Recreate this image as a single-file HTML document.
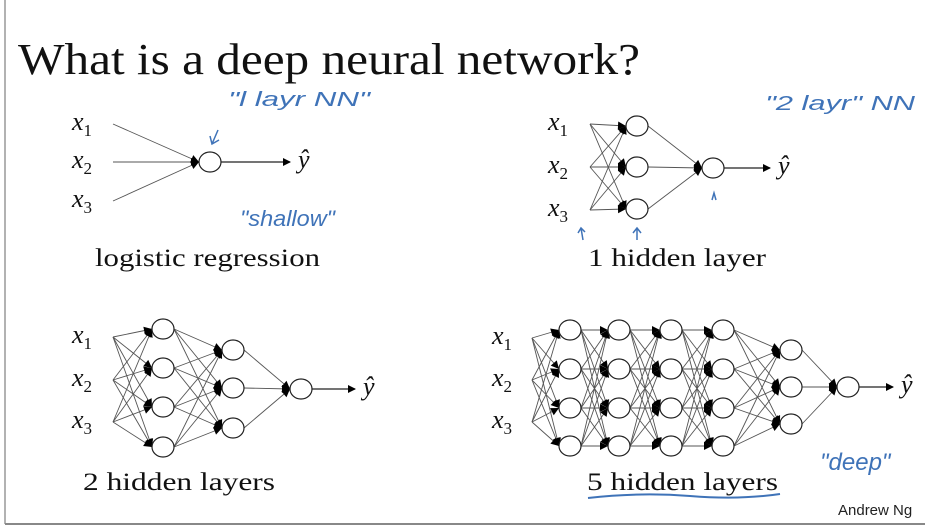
<!DOCTYPE html>
<html><head><meta charset="utf-8"><style>
body{margin:0;background:#fff;}
svg{display:block}
.s{font-family:"Liberation Serif",serif;fill:#111}
.m{font-family:"Liberation Serif",serif;font-style:italic;fill:#111}
.h{font-family:"Liberation Sans",sans-serif;fill:#3f73b8;font-style:italic}
</style></head><body>
<svg id="g" width="925" height="528" xmlns="http://www.w3.org/2000/svg">
<defs><marker id="a" markerWidth="8" markerHeight="8" refX="7" refY="4" orient="auto" markerUnits="userSpaceOnUse"><path d="M0,0 L8,4 L0,8z" fill="#000"/></marker></defs>
<line x1="5" y1="0" x2="5" y2="524" stroke="#999" stroke-width="1.5"/>
<line x1="5" y1="524" x2="925" y2="524" stroke="#888" stroke-width="2"/>
<text x="18" y="74" class="s" font-size="44" textLength="622" lengthAdjust="spacingAndGlyphs">What is a deep neural network?</text>
<g id="net"></g>
<text x="95" y="266" class="s" font-size="25" textLength="225" lengthAdjust="spacingAndGlyphs">logistic regression</text>
<text x="588" y="266" class="s" font-size="25" textLength="178" lengthAdjust="spacingAndGlyphs">1 hidden layer</text>
<text x="83" y="490" class="s" font-size="25" textLength="192" lengthAdjust="spacingAndGlyphs">2 hidden layers</text>
<text x="587" y="490" class="s" font-size="25" textLength="191" lengthAdjust="spacingAndGlyphs">5 hidden layers</text>
<path d="M588,498 Q640,492 690,496 T780,494" stroke="#3f73b8" stroke-width="2" fill="none"/>
<text x="838" y="515" font-family="Liberation Sans,sans-serif" font-size="15" fill="#222">Andrew Ng</text>
<text x="228" y="106" class="h" font-size="20" textLength="142" lengthAdjust="spacingAndGlyphs">"l  layr  NN"</text>
<path d="M218,130 L212,144 M210,136 L212,144 L219,140" stroke="#3f73b8" stroke-width="1.5" fill="none"/>
<text x="240" y="226" class="h" font-size="22" textLength="95" lengthAdjust="spacingAndGlyphs">"shallow"</text>
<text x="765" y="110" class="h" font-size="20" textLength="150" lengthAdjust="spacingAndGlyphs">"2  layr" NN</text>
<text x="820" y="470" class="h" font-size="24">"deep"</text>
<path d="M712,200 L714,193 L716,200 M583,240 L581,228 M578,233 L581,228 L585,232 M637,240 L637,228 M633,233 L637,228 L641,233" stroke="#3f73b8" stroke-width="1.5" fill="none"/>
</svg>
<script>
var g=document.getElementById('net'),NS='http://www.w3.org/2000/svg';
function el(t,a){var e=document.createElementNS(NS,t);for(var k in a)e.setAttribute(k,a[k]);g.appendChild(e);return e;}
function txt(x,y,s,sub){var t=el('text',{x:x,y:y,'class':'m','font-size':26});t.textContent=s;if(sub){var ts=document.createElementNS(NS,'tspan');ts.setAttribute('font-style','normal');ts.setAttribute('font-size','17');ts.setAttribute('dy','6');ts.textContent=sub;t.appendChild(ts);}}
function net(inX,inY,layers,out,arrowTo,lblX){
 var prev=inY.map(function(y){return[inX,y]});
 var all=layers.concat([[out]]);
 all.forEach(function(L){
  L.forEach(function(n){prev.forEach(function(p){
   var sx=p[0]+(p[0]==inX?0:11),ex=n[0]-11;
   el('line',{x1:sx,y1:p[1],x2:ex,y2:n[1],stroke:'#555','stroke-width':0.9});
   var dx=ex-sx,dy=n[1]-p[1],l=Math.hypot(dx,dy),ux=dx/l,uy=dy/l;
   el('path',{d:'M'+ex+','+n[1]+' L'+(ex-8*ux-4*uy)+','+(n[1]-8*uy+4*ux)+' L'+(ex-8*ux+4*uy)+','+(n[1]-8*uy-4*ux)+'z',fill:'#000'});
  });});
  prev=L;
 });
 all.forEach(function(L){L.forEach(function(n){el('ellipse',{cx:n[0],cy:n[1],rx:11,ry:10,fill:'#fff',stroke:'#222','stroke-width':1.2});});});
 el('line',{x1:out[0]+11,y1:out[1],x2:arrowTo,y2:out[1],stroke:'#222','stroke-width':1.2,'marker-end':'url(#a)'});
 txt(arrowTo+8,out[1]+6,'ŷ');
 inY.forEach(function(y,i){txt(lblX,y+6,'x',''+(i+1));});
}
function col(x,ys){return ys.map(function(y){return[x,y]});}
net(113,[124,162,201],[],[210,162],290,72);
net(590,[124,167,210],[col(637,[126,167,209])],[713,168],770,548);
net(113,[337,380,422],[col(163,[329,368,407,447]),col(233,[350,388,428])],[301,389],355,72);
var Y4=[330,369,408,446];
net(532,[338,380,422],[col(570,Y4),col(619,Y4),col(671,Y4),col(723,Y4),col(791,[350,387,424])],[848,387],893,492);
</script>
</body></html>
